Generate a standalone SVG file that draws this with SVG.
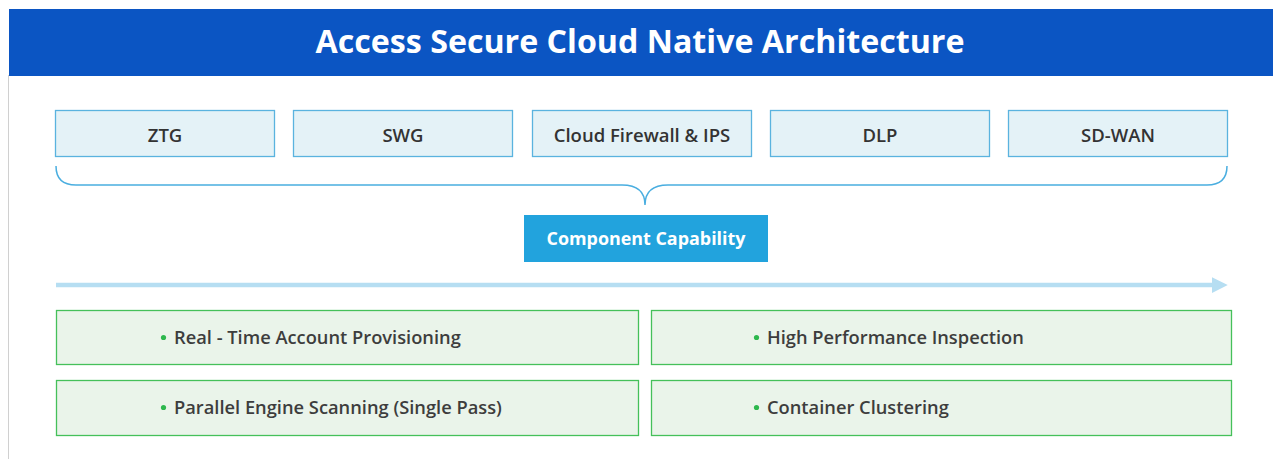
<svg xmlns="http://www.w3.org/2000/svg" width="1273" height="459" viewBox="0 0 1273 459">
<defs>
<style>
.top rect{fill:#e4f2f7;stroke:#5ab3df;stroke-width:1.3}
.top text{font-family:"Open Sans","Liberation Sans",sans-serif;font-weight:600;font-size:18.5px;fill:#333;text-anchor:middle}
.feat rect{fill:#eaf4ea;stroke:#45c05a;stroke-width:1.3}
.feat text{font-family:"Open Sans","Liberation Sans",sans-serif;font-weight:600;font-size:18.3px;fill:#3d3d3d}
.feat circle{fill:#2db84d}
</style>
<marker id="ah" viewBox="0 0 10 10" refX="0" refY="5" markerWidth="4" markerHeight="3.5" markerUnits="strokeWidth" orient="auto">
<path d="M0,0 L10,5 L0,10 z" fill="#b6def2"/>
</marker>
</defs>
<rect width="1273" height="459" fill="#ffffff"/>
<line x1="8.5" y1="75" x2="8.5" y2="459" stroke="#d0d0d0" stroke-width="1"/>
<g id="header">
<rect x="9" y="9" width="1264" height="67" fill="#0b55c3"/>
<text x="640" y="53" font-family="'Open Sans','Liberation Sans',sans-serif" font-weight="700" font-size="32.2" fill="#ffffff" text-anchor="middle">Access Secure Cloud Native Architecture</text>
</g>
<g id="ztg" class="top"><rect x="55.5" y="110.5" width="219" height="46"/><text x="165" y="142">ZTG</text></g>
<g id="swg" class="top"><rect x="293.5" y="110.5" width="219" height="46"/><text x="403" y="142">SWG</text></g>
<g id="firewall" class="top"><rect x="532.5" y="110.5" width="219" height="46"/><text x="642" y="142">Cloud Firewall &amp; IPS</text></g>
<g id="dlp" class="top"><rect x="770.5" y="110.5" width="219" height="46"/><text x="880" y="142">DLP</text></g>
<g id="sdwan" class="top"><rect x="1008.5" y="110.5" width="219" height="46"/><text x="1118" y="142">SD-WAN</text></g>
<g id="connectors">
<path d="M56,166 Q56,185 76,185 L622,185 Q645,185 645,205 Q645,185 668,185 L1207,185 Q1227,185 1227,166" fill="none" stroke="#4aaee0" stroke-width="1.5"/>
<line x1="56" y1="285" x2="1212" y2="285" stroke="#b6def2" stroke-width="4.5" marker-end="url(#ah)"/>
</g>
<g id="component">
<rect x="524" y="215" width="244" height="47" fill="#22a3dd"/>
<text x="646" y="245" font-family="'Open Sans','Liberation Sans',sans-serif" font-weight="700" font-size="17.9" fill="#ffffff" text-anchor="middle">Component Capability</text>
</g>
<g id="f1" class="feat"><rect x="56.5" y="310.5" width="582" height="54"/><circle cx="163.5" cy="337.5" r="2.6"/><text x="174" y="344">Real - Time Account Provisioning</text></g>
<g id="f2" class="feat"><rect x="651.5" y="310.5" width="580" height="54"/><circle cx="756.5" cy="337.5" r="2.6"/><text x="767" y="344">High Performance Inspection</text></g>
<g id="f3" class="feat"><rect x="56.5" y="380.5" width="582" height="55"/><circle cx="163.5" cy="407.5" r="2.6"/><text x="174" y="414">Parallel Engine Scanning (Single Pass)</text></g>
<g id="f4" class="feat"><rect x="651.5" y="380.5" width="580" height="55"/><circle cx="756.5" cy="407.5" r="2.6"/><text x="767" y="414">Container Clustering</text></g>
</svg>
